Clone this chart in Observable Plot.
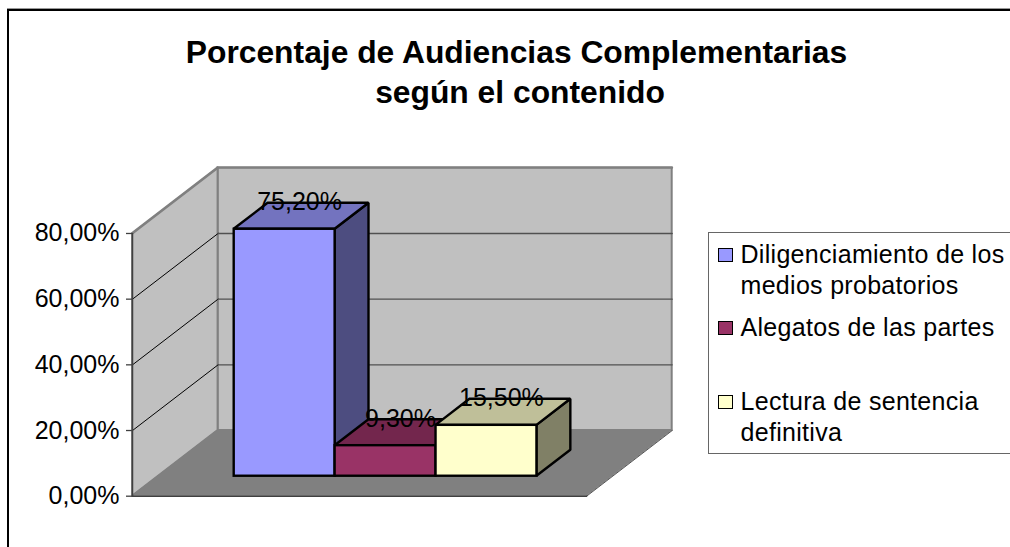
<!DOCTYPE html>
<html><head><meta charset="utf-8">
<script src="https://cdn.jsdelivr.net/npm/d3@7"></script>
<script src="https://cdn.jsdelivr.net/npm/@observablehq/plot@0.6"></script>
<style>
html,body{margin:0;padding:0;background:#fff}
#page{position:relative;width:1010px;height:547px;overflow:hidden;font-family:"Liberation Sans",Arial,sans-serif;color:#000}
#frame{position:absolute;left:7px;top:9px;width:1100px;height:700px;border:2px solid #000;box-sizing:border-box;box-shadow:0 -1px 0 #999}
#title{position:absolute;left:0;top:32px;width:1033px;text-align:center;font-weight:bold;font-size:31.8px;line-height:40px}
#title span{position:relative;left:3.5px}
#chart{position:absolute;left:0;top:0}
#legend{position:absolute;left:707.5px;top:231.5px;width:400px;height:222px;border:1.5px solid #666;box-sizing:border-box}
.sw{position:absolute;left:9px;width:13px;height:12px;border:1.5px solid #000;box-sizing:content-box}
.lb{position:absolute;left:32px;font-size:25px;line-height:31px;letter-spacing:.3px;white-space:nowrap}
</style></head><body>
<div id="page">
<div id="frame"></div>
<div id="chart"></div>
<div id="title">Porcentaje de Audiencias Complementarias<br><span>según el contenido</span></div>
<div id="legend"></div>
</div>
<script>
const categories = ["Diligenciamiento de los medios probatorios", "Alegatos de las partes", "Lectura de sentencia definitiva"];
const values = [75.2, 9.3, 15.5];
const valueLabels = ["75,20%", "9,30%", "15,50%"];
const frontColors = ["#9999FF", "#993366", "#FFFFCC"];
const topColors = ["#7373BF", "#73264D", "#BFBF99"];
const sideColors = ["#4D4D80", "#4D1A33", "#808066"];
const yTicks = [0, 20, 40, 60, 80];

// oblique 3-D model: a category unit is one bar wide, one full depth of the box
// shifts x by depthX category units and y by depthY percentage points.
const gap = 0.75, depthX = 0.848, depthY = 20, floorW = 4.5;
const z0 = 0.304, z1 = 0.70;
const wallTop = 80;
const px = (x, z) => x + z * depthX;
const py = (v, z) => v + z * depthY;

const bars = values.map((v, i) => ({
  v, i, x0: gap + i, x1: gap + i + 1,
  front: frontColors[i], top: topColors[i], side: sideColors[i], label: valueLabels[i]
}));

const marks = [];
// back wall
marks.push(Plot.rectY([0], {x1: () => px(0, 1), x2: () => px(floorW, 1), y1: () => py(0, 1), y2: () => py(wallTop, 1), fill: "#C0C0C0", stroke: "#808080", strokeWidth: 2}));
// left wall
marks.push(Plot.areaY([0, 1], {x: z => px(0, z), y1: z => py(0, z), y2: z => py(wallTop, z), fill: "#C0C0C0", stroke: "#808080", strokeWidth: 2}));
// floor
marks.push(Plot.areaX([0, 1], {y: z => py(0, z), x1: z => px(0, z), x2: z => px(floorW, z), fill: "#808080", stroke: "#808080", strokeWidth: 1}));
marks.push(Plot.line([0, 1], {x: z => px(floorW, z), y: z => py(0, z), stroke: "#555", strokeWidth: 1}));
marks.push(Plot.line([0, floorW], {x: x => px(x, 0), y: () => py(0, 0), stroke: "#404040", strokeWidth: 1.5}));
// gridlines: left wall then back wall
for (const t of yTicks.slice(1)) {
  marks.push(Plot.line([0, 1], {x: z => px(0, z), y: z => py(t, z), stroke: t === wallTop ? "#808080" : "#000", strokeWidth: t === wallTop ? 2 : 1}));
  marks.push(Plot.line([0, floorW], {x: x => px(x, 1), y: () => py(t, 1), stroke: t === wallTop ? "#808080" : "#505050", strokeWidth: t === wallTop ? 2 : 1.3}));
}
// value axis line
marks.push(Plot.line(yTicks, {x: () => px(0, 0), y: t => py(t, 0), stroke: "#404040", strokeWidth: 1.5}));
marks.push(Plot.axisY({
  ticks: yTicks, tickSize: 6, tickPadding: 7, tickFormat: d => d.toFixed(2).replace(".", ",") + "%",
  stroke: "#404040", strokeWidth: 1.3, fontSize: 25, label: null, anchor: "left"
}));
// bars, left to right, three faces each
for (const b of bars) {
  const common = {stroke: "#000", strokeWidth: 2.4, strokeLinejoin: "miter"};
  marks.push(Plot.areaY([z0, z1], {x: z => px(b.x1, z), y1: z => py(0, z), y2: z => py(b.v, z), fill: b.side, ...common}));
  marks.push(Plot.areaX([z0, z1], {y: z => py(b.v, z), x1: z => px(b.x0, z), x2: z => px(b.x1, z), fill: b.top, ...common}));
  marks.push(Plot.rectY([b], {x1: d => px(d.x0, z0), x2: d => px(d.x1, z0), y1: () => py(0, z0), y2: d => py(d.v, z0), fill: b.front, ...common}));
}
// data labels
marks.push(Plot.text(bars, {
  x: d => px((d.x0 + d.x1) / 2, (z0 + z1) / 2), y: d => py(d.v, z1), text: "label",
  fontSize: 25, fill: "#000", dx: -2, dy: -1
}));

const chart = Plot.plot({
  width: 1010, height: 547,
  marginLeft: 132, marginRight: 1010 - 671.7, marginTop: 167.3, marginBottom: 547 - 495.7,
  style: {background: "transparent", fontFamily: '"Liberation Sans", Arial, sans-serif', color: "#000"},
  x: {domain: [0, floorW + depthX], axis: null},
  y: {domain: [0, wallTop + depthY]},
  marks
});
document.getElementById("chart").append(chart);

// legend
const legendLayout = [
  {lines: ["Diligenciamiento de los", "medios probatorios"], top: 6},
  {lines: ["Alegatos de las partes"], top: 79},
  {lines: ["Lectura de sentencia", "definitiva"], top: 153}
];
const legend = document.getElementById("legend");
legendLayout.forEach((l, i) => {
  const s = document.createElement("div");
  s.className = "sw"; s.style.top = (l.top + 9) + "px"; s.style.background = frontColors[i];
  legend.append(s);
  const t = document.createElement("div");
  t.className = "lb"; t.style.top = l.top + "px"; t.innerHTML = l.lines.join("<br>");
  legend.append(t);
});
</script>
</body></html>
